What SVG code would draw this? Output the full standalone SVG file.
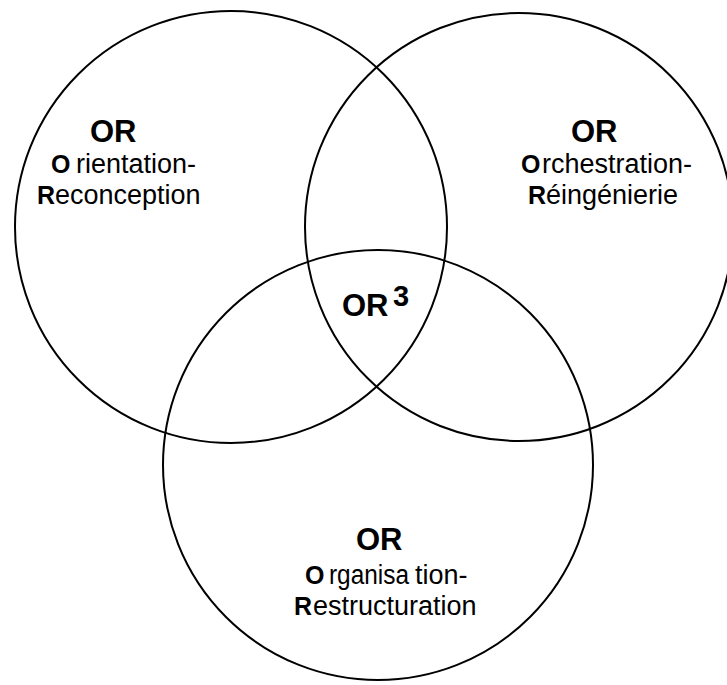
<svg xmlns="http://www.w3.org/2000/svg" width="727" height="685" viewBox="0 0 727 685">
<style>
.c{fill:none;stroke:#000;stroke-width:2}
text{font-family:"Liberation Sans",Arial,sans-serif;fill:#000}
.t{font-size:31px;font-weight:bold}
.n{font-size:27px}
.b{font-size:25px;font-weight:bold}
</style>
<rect width="727" height="685" fill="#fff"/>
<g id="circle-left"><circle class="c" cx="231" cy="227" r="216"/></g>
<g id="circle-right"><circle class="c" cx="519" cy="227" r="214"/></g>
<g id="circle-bottom"><circle class="c" cx="378" cy="465" r="215"/></g>
<g id="label-left">
<text class="t" x="90" y="142">OR</text>
<text class="n" y="173"><tspan class="b" x="51">O</tspan><tspan x="76">rientation-</tspan></text>
<text class="n" y="204"><tspan class="b" x="37">R</tspan><tspan x="55">econception</tspan></text>
</g>
<g id="label-right">
<text class="t" x="571" y="142">OR</text>
<text class="n" y="173"><tspan class="b" x="521">O</tspan><tspan x="542">rchestration-</tspan></text>
<text class="n" y="204"><tspan class="b" x="528">R</tspan><tspan x="546">éingénierie</tspan></text>
</g>
<g id="label-center">
<text class="t" x="342" y="316">OR<tspan x="393" y="306" style="font-size:29px">3</tspan></text>
</g>
<g id="label-bottom">
<text class="t" x="356" y="550">OR</text>
<text class="n" y="584"><tspan class="b" x="305">O</tspan><tspan x="329" textLength="80" lengthAdjust="spacingAndGlyphs">rganisa</tspan><tspan x="415">tion-</tspan></text>
<text class="n" y="615"><tspan class="b" x="294">R</tspan><tspan x="313">estructuration</tspan></text>
</g>
<g id="connectors"></g>
</svg>
